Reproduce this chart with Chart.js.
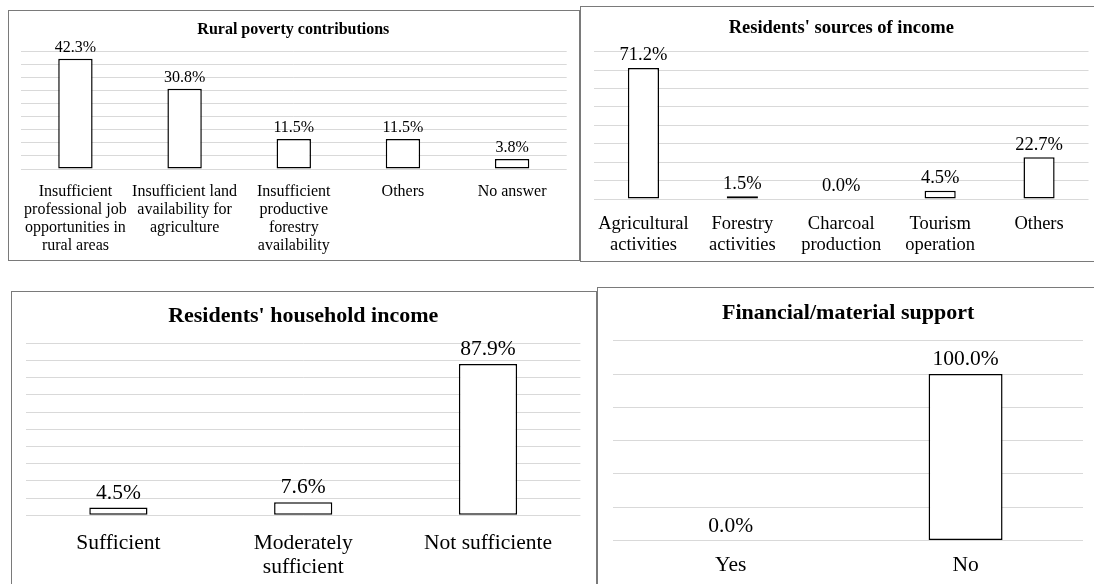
<!DOCTYPE html>
<html>
<head>
<meta charset="utf-8">
<script src="https://cdn.jsdelivr.net/npm/chart.js@4.4.1/dist/chart.umd.min.js"></script>
<style>
    body  { margin: 0; background: #fff; width: 1094px; height: 584px; overflow: hidden; position: relative; }
    .panel { position: absolute; border: 1px solid #7a7a7a; background: #fff; box-sizing: border-box; }
    .box   { position: absolute; left: 0; top: 0; }
</style>
</head>
<body>

<div class="panel" style="left:8px;top:10px;width:572px;height:251px;">
    <div class="box" style="width:570px;height:249px;"><canvas id="povertyChart"></canvas></div>
</div>
<div class="panel" style="left:580px;top:6px;width:520px;height:256px;">
    <div class="box" style="width:518px;height:254px;"><canvas id="sourcesChart"></canvas></div>
</div>
<div class="panel" style="left:11px;top:291px;width:586px;height:300px;">
    <div class="box" style="width:584px;height:298px;"><canvas id="householdChart"></canvas></div>
</div>
<div class="panel" style="left:597px;top:287px;width:500px;height:300px;">
    <div class="box" style="width:498px;height:298px;"><canvas id="supportChart"></canvas></div>
</div>

<script>
// ── Data ───────────────────────────────────────────────────────────────────

const povertyLabels = [
    ['Insufficient', 'professional job', 'opportunities in', 'rural areas'],
    ['Insufficient land', 'availability for', 'agriculture'],
    ['Insufficient', 'productive', 'forestry', 'availability'],
    'Others',
    'No answer',
];
const povertyValues = [42.3, 30.8, 11.5, 11.5, 3.8];

const sourcesLabels = [
    ['Agricultural', 'activities'],
    ['Forestry', 'activities'],
    ['Charcoal', 'production'],
    ['Tourism', 'operation'],
    'Others',
];
const sourcesValues = [71.2, 1.5, 0.0, 4.5, 22.7];

const householdLabels = ['Sufficient', ['Moderately', 'sufficient'], 'Not sufficiente'];
const householdValues = [4.5, 7.6, 87.9];

const supportLabels = ['Yes', 'No'];
const supportValues = [0.0, 100.0];

const SERIF = "'Liberation Serif', 'Times New Roman', serif";

// ── Value labels above bars ────────────────────────────────────────────────

const valueLabels = {
    id: 'valueLabels',
    afterDatasetsDraw(chart, args, opts) {
        const ctx    = chart.ctx;
        const values = chart.data.datasets[0].data;
        ctx.save();
        ctx.font         = `${opts.size}px ${SERIF}`;
        ctx.fillStyle    = '#000';
        ctx.textAlign    = 'center';
        ctx.textBaseline = 'middle';
        chart.getDatasetMeta(0).data.forEach((bar, i) => {
            ctx.fillText(values[i].toFixed(1) + '%', bar.x, bar.y - opts.offset);
        });
        ctx.restore();
    },
};

// ── Chart builder ──────────────────────────────────────────────────────────

function makeChart(id, title, labels, values, c) {
    return new Chart(document.getElementById(id), {
        type: 'bar',
        data: {
            labels,
            datasets: [{
                data: values,
                backgroundColor: '#fff',
                borderColor: '#000',
                borderWidth: (ctx) => (ctx.raw === 0 ? 0 : 1.5),
                borderSkipped: false,
                barPercentage: 0.315,
                categoryPercentage: 1,
            }],
        },
        plugins: [valueLabels],
        options: {
            responsive: true,
            maintainAspectRatio: false,
            animation: false,
            layout: { padding: { left: c.left, right: c.right, top: 0, bottom: 0 } },
            plugins: {
                legend:  { display: false },
                tooltip: { enabled: false },
                title: {
                    display: true,
                    text: title,
                    color: '#000',
                    font: { family: SERIF, size: c.titleSize, weight: 'bold', lineHeight: 1.2 },
                    padding: { top: c.titleTop, bottom: c.titleBottom },
                },
                valueLabels: { size: c.valueSize, offset: c.valueOffset },
            },
            scales: {
                x: {
                    grid:   { display: false, drawTicks: false },
                    border: { display: false },
                    ticks: {
                        color: '#000',
                        autoSkip: false,
                        maxRotation: 0,
                        padding: c.tickPad,
                        font: { family: SERIF, size: c.labelSize, lineHeight: c.labelLine },
                    },
                    afterFit: (scale) => { scale.height = c.axisHeight; },
                },
                y: {
                    min: 0,
                    max: c.max,
                    ticks:  { display: false, stepSize: c.step },
                    grid:   { color: '#d9d9d9', lineWidth: 1, drawTicks: false },
                    border: { display: false },
                    afterFit: (scale) => { scale.width = 0; },
                },
            },
        },
    });
}

makeChart('povertyChart', 'Rural poverty contributions', povertyLabels, povertyValues, {
    left: 11, right: 12.3, titleSize: 16, titleTop: 9.4, titleBottom: 12.1,
    labelSize: 16, labelLine: 1.125, tickPad: 14, axisHeight: 91,
    max: 45, step: 5, valueSize: 16, valueOffset: 11.4,
});

makeChart('sourcesChart', "Residents' sources of income", sourcesLabels, sourcesValues, {
    left: 13, right: 10.5, titleSize: 18.5, titleTop: 9.9, titleBottom: 12.6,
    labelSize: 18.5, labelLine: 1.17, tickPad: 14, axisHeight: 62,
    max: 80, step: 10, valueSize: 18.5, valueOffset: 12.5,
});

makeChart('householdChart', "Residents' household income", householdLabels, householdValues, {
    left: 14, right: 15.6, titleSize: 22, titleTop: 11.3, titleBottom: 13.6,
    labelSize: 21.5, labelLine: 1.13, tickPad: 15.5, axisHeight: 74.7,
    max: 100, step: 10, valueSize: 21.5, valueOffset: 14.5,
});

makeChart('supportChart', 'Financial/material support', supportLabels, supportValues, {
    left: 15.3, right: 13, titleSize: 22, titleTop: 12, titleBottom: 14.3,
    labelSize: 21.5, labelLine: 1.13, tickPad: 12.5, axisHeight: 45.5,
    max: 120, step: 20, valueSize: 21.5, valueOffset: 14.5,
});
</script>
</body>
</html>
